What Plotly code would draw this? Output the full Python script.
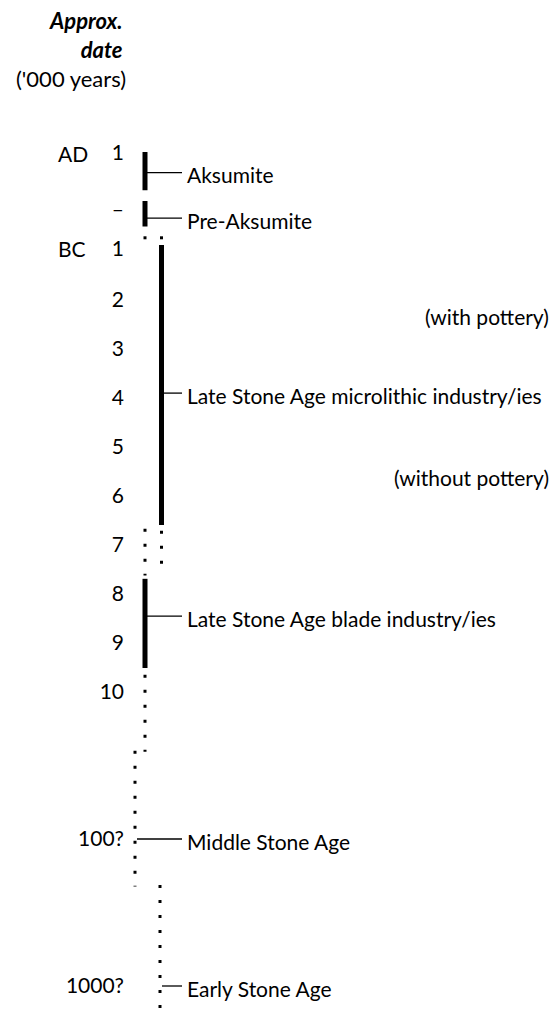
import plotly.graph_objects as go

# ---------------- data ----------------
# vertical timeline positions are in "row" units (AD 1 = row 0)
tick_pos = [0, 1.15, 1.95, 3, 4, 5, 6, 7, 8, 9, 10, 11, 14, 17]
tick_text = ["1", "–", "1", "2", "3", "4", "5", "6", "7", "8", "9", "10", "100?", "1000?"]
era_text = ["AD", "BC"]
era_pos = [0, 1.95]

period_names = ["Aksumite", "Pre-Aksumite", "Late Stone Age microlithic industry/ies",
                "Late Stone Age blade industry/ies", "Middle Stone Age", "Early Stone Age"]
period_lane = ["A", "A", "B", "A", "C", "D"]
period_label_pos = [0.4, 1.33, 4.9, 9.45, 14.0, 17.0]

solid_lane = ["A", "A", "B", "A"]
solid_start = [-0.02, 0.98, 1.88, 8.69]
solid_end = [0.76, 1.5, 7.59, 10.51]

dotted_lane = ["A", "B", "A", "B", "A", "C", "D"]
dotted_start = [1.70, 1.70, 7.67, 7.71, 10.65, 12.2, 14.94]
dotted_end = [1.77, 1.77, 8.62, 8.62, 12.22, 14.97, 17.75]

notes = ["(with pottery)", "(without pottery)"]
note_pos = [3.33, 6.63]

header_title = ["Approx.", "date"]
header_unit = "('000 years)"

# ---------------- layout helpers ----------------
W, H = 560, 1019
ROW0_PX, ROW_PX = 153.0, 49.0
lane_x = {"A": 145, "B": 161.5, "C": 135, "D": 160}
FONT = "Lato, 'Open Sans', sans-serif"
FS = 21

fig = go.Figure()

for ln, s, e in zip(solid_lane, solid_start, solid_end):
    fig.add_trace(go.Scatter(x=[lane_x[ln], lane_x[ln]], y=[s, e], mode="lines",
                             line=dict(color="black", width=5), hoverinfo="skip"))

for ln, s, e in zip(dotted_lane, dotted_start, dotted_end):
    fig.add_trace(go.Scatter(x=[lane_x[ln], lane_x[ln]], y=[s, e], mode="lines",
                             line=dict(color="black", width=3, dash="3px,12px"),
                             hoverinfo="skip"))

for name, ln, yp in zip(period_names, period_lane, period_label_pos):
    x0 = lane_x[ln] + 2
    fig.add_trace(go.Scatter(x=[x0, 182], y=[yp, yp], mode="lines",
                             line=dict(color="black", width=1.3), hoverinfo="skip"))
    fig.add_annotation(x=185, y=yp, text=name, showarrow=False, xanchor="left",
                       yanchor="middle", yshift=-2,
                       font=dict(family=FONT, size=FS, color="black"))

for t, yp in zip(era_text, era_pos):
    fig.add_annotation(x=56, y=yp, text=t, showarrow=False, xanchor="left",
                       yanchor="middle", font=dict(family=FONT, size=FS, color="black"))

for t, yp in zip(notes, note_pos):
    fig.add_annotation(x=551, y=yp, text=t, showarrow=False, xanchor="right",
                       yanchor="middle", font=dict(family=FONT, size=FS, color="black"))

# header (title block, two lines, right aligned)
fig.add_annotation(xref="x", yref="paper", x=124, y=1 - 35 / H,
                   text="<br>".join(header_title), showarrow=False,
                   xanchor="right", yanchor="middle", align="right", borderpad=0,
                   font=dict(family=FONT, size=22, color="black",
                             weight="bold", style="italic"))
fig.add_annotation(xref="x", yref="paper", x=127, y=1 - 79 / H, text=header_unit,
                   showarrow=False, xanchor="right", yanchor="middle", borderpad=0,
                   font=dict(family=FONT, size=22, color="black"))

top_u = -ROW0_PX / ROW_PX
bot_u = (H - ROW0_PX) / ROW_PX

fig.update_layout(
    width=W, height=H, margin=dict(l=0, r=0, t=0, b=0),
    paper_bgcolor="white", plot_bgcolor="white", showlegend=False, hovermode=False,
    xaxis=dict(range=[0, W], visible=False, domain=[0, 1]),
    yaxis=dict(range=[bot_u, top_u], anchor="free", position=124 / W,
               tickvals=tick_pos, ticktext=tick_text, ticks="", showline=False,
               showgrid=False, zeroline=False,
               tickfont=dict(family=FONT, size=FS, color="black")),
)

fig.write_html("out.html", config={"displayModeBar": False},
               post_script="document.body.style.margin='0';document.body.style.overflow='hidden';")
